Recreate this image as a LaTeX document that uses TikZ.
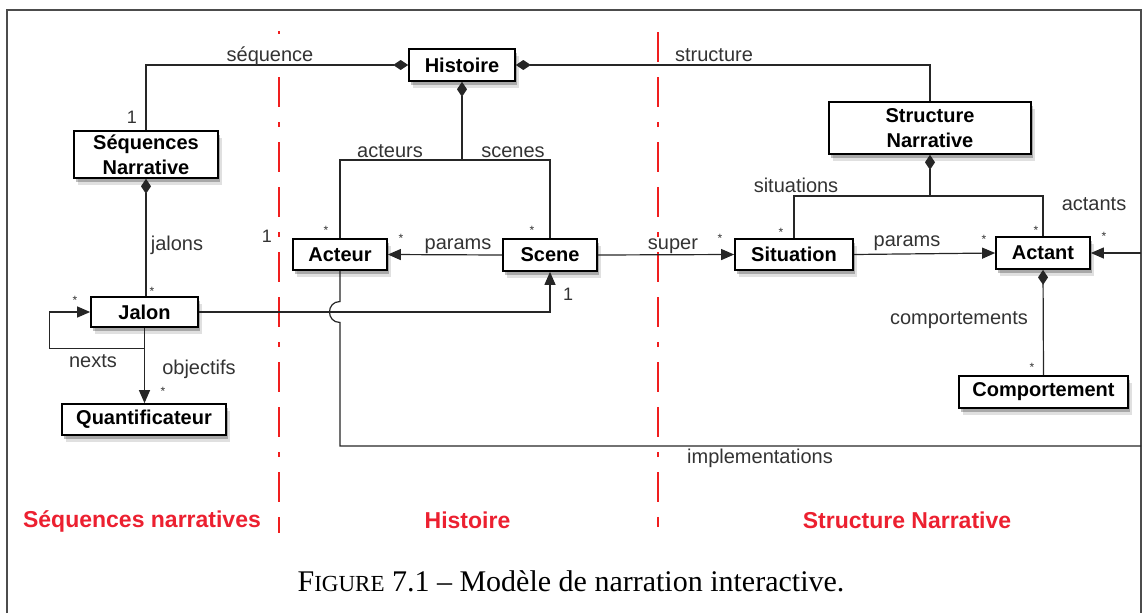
\documentclass[tikz,border=0pt]{standalone}
\usepackage{fontspec}
\setmainfont{Liberation Serif}
\setsansfont{Liberation Sans}
\usetikzlibrary{arrows.meta,shadows,calc}
\definecolor{redline}{RGB}{240,30,30}
\definecolor{redtext}{RGB}{236,32,48}
\begin{document}
\begin{tikzpicture}[x=1pt,y=-1pt,
  cls/.style={draw=black, line width=1.7pt, fill=white, inner sep=0pt, align=center,
    font=\sffamily\bfseries\fontsize{20}{25}\selectfont,
    drop shadow={shadow xshift=3.5pt,shadow yshift=-7pt,opacity=0.12,fill=black},
    drop shadow={shadow xshift=2pt,shadow yshift=-4pt,opacity=0.25,fill=black}},
  conn/.style={draw=black!85, line width=1.2pt},
  lab/.style={font=\sffamily\fontsize{20}{24}\selectfont, text=black!80, inner sep=0pt, anchor=base},
  mult/.style={font=\sffamily\fontsize{12}{14}\selectfont, text=black!80, inner sep=0pt, anchor=base},
  one/.style={font=\sffamily\fontsize{18}{20}\selectfont, text=black!80, inner sep=0pt, anchor=base},
  tri/.tip={Triangle[length=13pt,width=11pt]},
  dia/.tip={Diamond[length=15pt,width=10pt]},
  redsep/.style={draw=redline, line width=2.8pt, dash pattern=on 30pt off 15pt on 30pt off 15pt on 5pt off 15pt},
  redlab/.style={font=\sffamily\bfseries\fontsize{23}{26}\selectfont, text=redtext, inner sep=0pt, anchor=base}
]
\useasboundingbox (0,0) rectangle (1145,613);
% frame
\draw[draw=black!70, line width=1.2pt] (7,613) -- (7,10) -- (1141,10) -- (1141,613);
% red separators
\draw[draw=redline, line width=2.8pt] (279,31) -- (279,34);
\draw[redsep, dash phase=45pt] (279,77) -- (279,533);
\draw[redsep] (658,32) -- (658,527);

% classes
\node[cls, minimum width=106pt, minimum height=32pt] (hist) at (462,65) {Histoire};
\node[cls, minimum width=144pt, minimum height=47pt] (seqn) at (146,154.5) {Séquences\\Narrative};
\node[cls, minimum width=202pt, minimum height=52pt] (strn) at (930,128) {Structure\\Narrative};
\node[cls, minimum width=94pt, minimum height=31pt] (act) at (340,254.5) {Acteur};
\node[cls, minimum width=94pt, minimum height=32pt] (scene) at (550,255) {Scene};
\node[cls, minimum width=118pt, minimum height=31pt] (sit) at (794,254.5) {Situation};
\node[cls, minimum width=94pt, minimum height=32pt] (actant) at (1043,253) {Actant};
\node[cls, minimum width=169pt, minimum height=32pt] (comp) at (1043.5,392) {Comportement};
\node[cls, minimum width=107pt, minimum height=30pt] (jalon) at (144.5,312) {Jalon};
\node[cls, minimum width=164pt, minimum height=31pt] (quant) at (144,419.5) {Quantificateur};

% helper coordinates
\coordinate (hb) at (462,160);
\coordinate (sb) at (930,196);
\coordinate (hopA) at (340,301.5);
\coordinate (hopB) at (340,322.5);
\coordinate (impC) at (340,446);
\coordinate (impR) at (1141,446);
\coordinate (edgeR) at (1141,253);

% connectors
\draw[conn, dia-] (hist.west) -| (seqn.north);
\draw[conn, dia-] (hist.east) -| (strn.north);
\draw[conn, dia-] (hist.south) -- (hb);
\draw[conn] (hb) -| (act.north);
\draw[conn] (hb) -| (scene.north);
\draw[conn, dia-] (seqn.south) -- (seqn.south |- jalon.north);
\draw[conn, -tri] (jalon.south) -- ++(0,21) -| ([xshift=-41pt]jalon.west) -- (jalon.west);
\draw[conn, -tri] (jalon.south) -- (jalon.south |- quant.north);
\draw[conn, -tri] (jalon.east) -| (scene.south);
\draw[conn] (act.south) -- (hopA) .. controls +(-14,0) and +(-14,0) .. (hopB) -- (impC) -- (impR);
\draw[conn, -tri] (scene.west) -- (act.east);
\draw[conn, -tri] (scene.east) -- (sit.west);
\draw[conn, dia-] (strn.south) -- (sb);
\draw[conn] (sb) -| (sit.north);
\draw[conn] (sb) -| (actant.north);
\draw[conn, -tri] (sit.east) -- (actant.west);
\draw[conn, dia-] (actant.south) -- (comp.north);
\draw[conn, -tri] (edgeR) -- (actant.east);

% role labels
\node[lab] (lseq) at (270,61) {séquence};
\node[lab] (lstr) at (714,61) {structure};
\node[lab] (lact) at (390,157) {acteurs};
\node[lab] (lsce) at (513,157) {scenes};
\node[lab] (lsit) at (796,192) {situations};
\node[lab] (lactt) at (1094,210) {actants};
\node[lab] (ljal) at (177,250) {jalons};
\node[lab] (lnex) at (93,367) {nexts};
\node[lab] (lobj) at (199,374) {objectifs};
\node[lab] (lpar1) at (458,249) {params};
\node[lab] (lsup) at (673,249) {super};
\node[lab] (lpar2) at (907,246) {params};
\node[lab] (lcomp) at (959,324) {comportements};
\node[lab] (limp) at (760,463) {implementations};

% multiplicities
\node[one] (m1) at (132,123) {1};
\node[one] (m2) at (267,242) {1};
\node[one] (m3) at (568,300) {1};
\node[mult] (s1) at (326,234) {*};
\node[mult] (s2) at (401,242) {*};
\node[mult] (s3) at (532,234) {*};
\node[mult] (s4) at (720,242) {*};
\node[mult] (s5) at (152,295) {*};
\node[mult] (s6) at (75,304) {*};
\node[mult] (s7) at (163,395) {*};
\node[mult] (s8) at (781,236) {*};
\node[mult] (s9) at (984,243) {*};
\node[mult] (s10) at (1036,234) {*};
\node[mult] (s11) at (1104,240) {*};
\node[mult] (s12) at (1032,371) {*};

% zone titles
\node[redlab] (z1) at (142,527) {Séquences narratives};
\node[redlab] (z2) at (467.5,528) {Histoire};
\node[redlab] (z3) at (907,528) {Structure Narrative};

% caption
\node[anchor=base, inner sep=0pt, font=\fontsize{30}{34}\selectfont] (cap) at (571,591)
  {F{\fontsize{23}{26}\selectfont IGURE} 7.1 – Modèle de narration interactive.};
\end{tikzpicture}
\end{document}
